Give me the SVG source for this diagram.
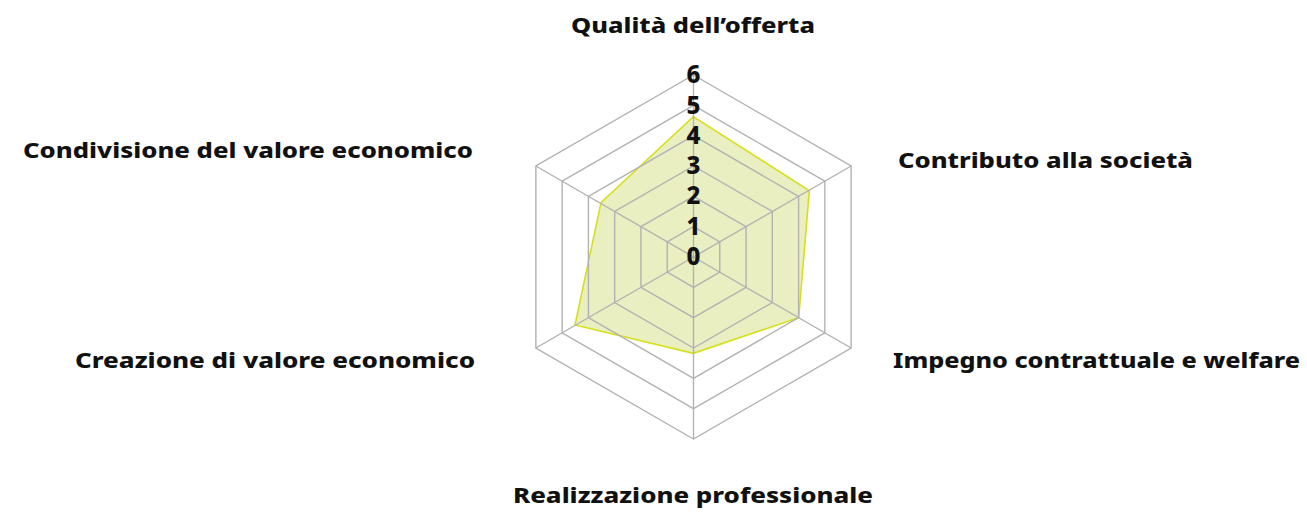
<svg xmlns="http://www.w3.org/2000/svg" width="1307" height="512" viewBox="0 0 1307 512">
<style>
.grid{fill:none;stroke:#b2b2b2;stroke-width:1.4}
.lbl{font-family:"Noto Sans","Liberation Sans",sans-serif;font-weight:800;font-size:22px;fill:#111}
.tick{font-family:"Noto Sans","Liberation Sans",sans-serif;font-weight:800;font-size:24px;fill:#111;text-anchor:middle}
</style>
<rect width="1307" height="512" fill="#fff"/>
<g id="data">
<polygon points="693.3,116.7 809.3,190.7 798.7,317.7 693.3,353.3 575,325 601,202.7" fill="#dbe597" fill-opacity="0.6" stroke="#d6e01a" stroke-width="1.6" stroke-linejoin="miter"/>
</g>
<g id="connectors" class="grid">
<polygon points="693.5,226.67 719.77,241.83 719.77,272.17 693.5,287.33 667.23,272.17 667.23,241.83"/>
<polygon points="693.5,196.33 746.04,226.67 746.04,287.33 693.5,317.67 640.96,287.33 640.96,226.67"/>
<polygon points="693.5,166 772.31,211.5 772.31,302.5 693.5,348 614.69,302.5 614.69,211.5"/>
<polygon points="693.5,135.67 798.58,196.33 798.58,317.67 693.5,378.33 588.42,317.67 588.42,196.33"/>
<polygon points="693.5,105.33 824.85,181.17 824.85,332.83 693.5,408.67 562.15,332.83 562.15,181.17"/>
<polygon points="693.5,75 851.12,166 851.12,348 693.5,439 535.88,348 535.88,166"/>
<line x1="693.5" y1="257" x2="693.5" y2="75"/>
<line x1="693.5" y1="257" x2="851.12" y2="166"/>
<line x1="693.5" y1="257" x2="851.12" y2="348"/>
<line x1="693.5" y1="257" x2="693.5" y2="439"/>
<line x1="693.5" y1="257" x2="535.88" y2="348"/>
<line x1="693.5" y1="257" x2="535.88" y2="166"/>
</g>
<g id="ticks">
<text class="tick" x="693.5" y="265">0</text>
<text class="tick" x="693.5" y="234.7">1</text>
<text class="tick" x="693.5" y="204.4">2</text>
<text class="tick" x="693.5" y="174">3</text>
<text class="tick" x="693.5" y="143.8">4</text>
<text class="tick" x="693.5" y="113.5">5</text>
<text class="tick" x="693.5" y="82.5">6</text>
</g>
<g id="label-qualita"><text class="lbl" x="693" y="33" text-anchor="middle" textLength="244" lengthAdjust="spacingAndGlyphs">Qualità dell’offerta</text></g>
<g id="label-contributo"><text class="lbl" x="898" y="168" textLength="295" lengthAdjust="spacingAndGlyphs">Contributo alla società</text></g>
<g id="label-impegno"><text class="lbl" x="893" y="368" textLength="407" lengthAdjust="spacingAndGlyphs">Impegno contrattuale e welfare</text></g>
<g id="label-realizzazione"><text class="lbl" x="693" y="503" text-anchor="middle" textLength="360" lengthAdjust="spacingAndGlyphs">Realizzazione professionale</text></g>
<g id="label-creazione"><text class="lbl" x="475" y="368" text-anchor="end" textLength="400" lengthAdjust="spacingAndGlyphs">Creazione di valore economico</text></g>
<g id="label-condivisione"><text class="lbl" x="473" y="158" text-anchor="end" textLength="450" lengthAdjust="spacingAndGlyphs">Condivisione del valore economico</text></g>
</svg>
